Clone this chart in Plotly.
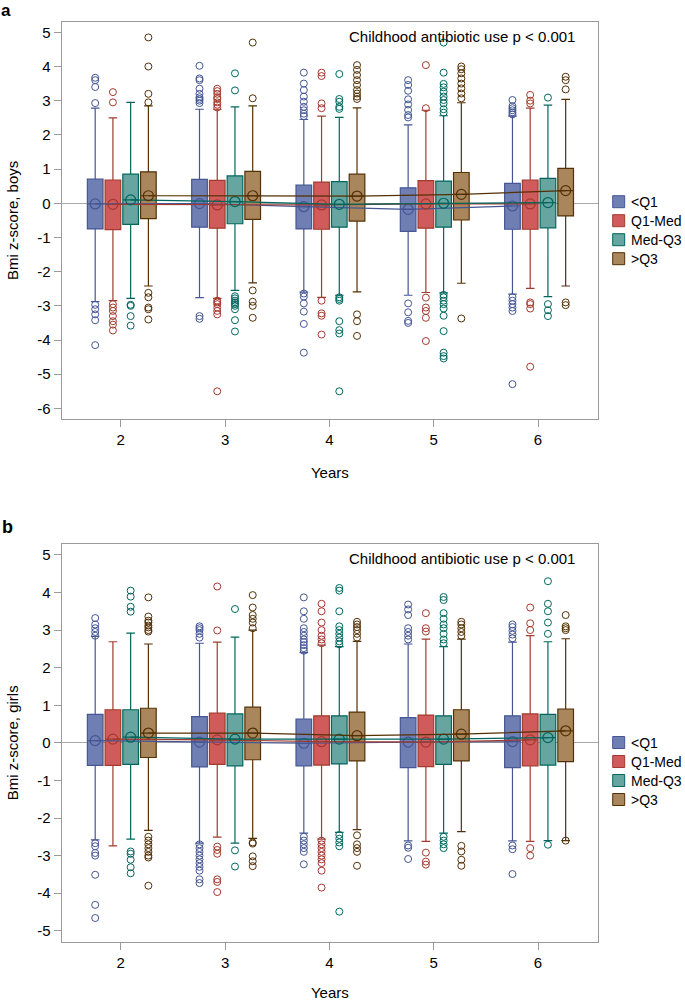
import plotly.graph_objects as go

# ---------------- data ----------------
YEARS = [2, 3, 4, 5, 6]
GROUPS = ["<Q1", "Q1-Med", "Med-Q3", ">Q3"]
ANNOT = "Childhood antibiotic use p < 0.001"

# Panel a: boys  (rows = groups <Q1, Q1-Med, Med-Q3, >Q3 ; cols = years 2..6)
BOYS_Q3 = [[0.71, 0.70, 0.53, 0.45, 0.58],
           [0.68, 0.67, 0.62, 0.66, 0.68],
           [0.85, 0.80, 0.63, 0.65, 0.73],
           [0.92, 0.93, 0.85, 0.90, 1.02]]
BOYS_Q1 = [[-0.75, -0.70, -0.75, -0.82, -0.76],
           [-0.77, -0.73, -0.76, -0.73, -0.76],
           [-0.62, -0.60, -0.70, -0.70, -0.72],
           [-0.45, -0.47, -0.52, -0.49, -0.37]]
BOYS_MEAN = [[-0.02, -0.01, -0.10, -0.18, -0.08],
             [-0.03, -0.05, -0.05, -0.02, -0.02],
             [0.10, 0.05, -0.03, 0.00, 0.02],
             [0.22, 0.22, 0.21, 0.26, 0.37]]
BOYS_HI = [[2.78, 2.75, 2.45, 2.29, 2.55],
           [2.50, 2.75, 2.55, 2.72, 2.78],
           [2.95, 2.82, 2.51, 2.56, 2.87],
           [2.85, 2.85, 2.79, 2.94, 3.04]]
BOYS_LO = [[-2.88, -2.76, -2.60, -2.69, -2.66],
           [-2.85, -2.78, -2.75, -2.61, -2.49],
           [-2.78, -2.55, -2.69, -2.62, -2.73],
           [-2.42, -2.33, -2.59, -2.34, -2.42]]
BOYS_OUT = [
    [[2.93, 3.40, 3.60, 3.67, -2.97, -3.10, -3.25, -3.42, -4.15],
     [2.93, 3.00, 3.05, 3.10, 3.20, 3.35, 3.60, 3.65, 4.02, -3.30, -3.38],
     [2.55, 2.62, 2.72, 2.82, 2.97, 3.12, 3.31, 3.50, 3.82, -2.64, -2.73, -2.93, -3.17, -3.53, -4.37],
     [2.51, 2.58, 2.73, 2.89, 3.04, 3.29, 3.46, 3.60, -2.93, -3.19, -3.44, -3.50],
     [2.60, 2.66, 2.72, 2.78, 2.84, 3.02, -2.75, -2.85, -2.95, -3.05, -3.15, -5.29]],
    [[2.95, 3.25, -2.95, -3.05, -3.15, -3.30, -3.45, -3.55, -3.72],
     [2.80, 2.88, 2.95, 3.05, 3.10, 3.20, 3.28, 3.35, -2.85, -2.90, -2.95, -3.05, -3.15, -3.25, -5.50],
     [2.78, 2.92, 3.72, 3.82, -2.85, -3.22, -3.29, -3.84],
     [2.78, 4.04, -2.76, -3.05, -3.15, -3.35, -4.03],
     [2.92, 3.00, 3.17, -2.90, -2.95, -3.08, -4.78]],
    [[-2.97, -3.00, -3.30, -3.58],
     [3.30, 3.80, -2.72, -2.78, -2.85, -2.90, -2.95, -3.00, -3.10, -3.42, -3.75],
     [2.76, 2.82, 2.97, 3.05, 3.78, -2.75, -2.80, -2.85, -3.45, -3.71, -3.81, -5.50],
     [2.65, 2.75, 2.92, 3.02, 3.12, 3.26, 3.39, 3.49, 3.82, 4.70, -2.68, -2.75, -2.85, -2.95, -3.08, -3.29, -3.74, -4.37, -4.47, -4.54],
     [3.09, -2.95, -3.13, -3.30]],
    [[2.95, 3.20, 4.00, 4.85, -2.62, -2.75, -3.05, -3.10, -3.40],
     [3.07, 4.70, -2.55, -2.88, -3.00, -3.35],
     [3.05, 3.12, 3.21, 3.31, 3.46, 3.60, 3.75, 3.90, 4.04, -3.25, -3.45, -3.88],
     [3.07, 3.21, 3.36, 3.50, 3.65, 3.80, 3.92, 4.00, -3.37],
     [3.33, 3.60, 3.70, -2.90, -2.98]],
]

# Panel b: girls
GIRLS_Q3 = [[0.76, 0.70, 0.63, 0.67, 0.72],
            [0.88, 0.79, 0.72, 0.74, 0.77],
            [0.88, 0.77, 0.72, 0.72, 0.76],
            [0.92, 0.95, 0.82, 0.88, 0.90]]
GIRLS_Q1 = [[-0.60, -0.64, -0.61, -0.66, -0.66],
            [-0.60, -0.57, -0.59, -0.63, -0.61],
            [-0.57, -0.61, -0.56, -0.57, -0.59],
            [-0.39, -0.45, -0.48, -0.48, -0.50]]
GIRLS_MEAN = [[0.06, 0.02, -0.01, 0.02, 0.03],
              [0.10, 0.08, 0.03, 0.02, 0.08],
              [0.15, 0.10, 0.10, 0.10, 0.14],
              [0.26, 0.26, 0.19, 0.23, 0.32]]
GIRLS_HI = [[2.83, 2.65, 2.40, 2.63, 2.68],
            [2.69, 2.68, 2.60, 2.76, 2.85],
            [2.92, 2.81, 2.56, 2.56, 2.69],
            [2.63, 3.00, 2.70, 2.76, 2.77]]
GIRLS_LO = [[-2.58, -2.67, -2.40, -2.61, -2.61],
            [-2.74, -2.51, -2.56, -2.62, -2.62],
            [-2.56, -2.67, -2.38, -2.40, -2.60],
            [-2.33, -2.54, -2.31, -2.36, -2.60]]
GIRLS_OUT = [
    [[2.85, 2.95, 3.05, 3.15, 3.32, -2.67, -2.75, -2.93, -3.00, -3.51, -4.31, -4.66],
     [2.80, 2.90, 3.00, 3.05, 3.10, -2.70, -2.80, -2.90, -3.00, -3.10, -3.20, -3.30, -3.40, -3.63, -3.73],
     [2.45, 2.52, 2.60, 2.68, 2.75, 2.85, 2.95, 3.05, 3.30, 3.50, 3.87, -2.50, -2.60, -2.70, -2.80, -2.90, -3.23],
     [2.75, 2.85, 2.95, 3.05, 3.40, 3.55, 3.68, -2.73, -2.79, -3.09],
     [2.78, 2.88, 2.98, 3.08, 3.15, -2.73, -2.83, -3.49]],
    [[],
     [2.99, 4.16, -2.76, -2.85, -2.95, -3.63, -3.70, -3.97],
     [2.65, 2.75, 2.85, 3.00, 3.20, 3.50, 3.70, -2.60, -2.70, -2.80, -2.90, -3.00, -3.10, -3.20, -3.40, -3.85],
     [2.96, 3.05, 3.45, -2.92, -3.16, -3.24],
     [3.00, 3.18, 3.60, -2.80, -3.00]],
    [[3.49, 3.62, 3.89, 4.05, -2.89, -2.95, -3.11, -3.31, -3.47],
     [3.56, -2.86, -3.29],
     [2.62, 2.70, 2.80, 2.90, 3.00, 3.10, 3.50, 4.05, 4.12, -2.45, -2.55, -2.65, -2.75, -4.49],
     [2.65, 2.75, 2.90, 3.05, 3.15, 3.30, 3.45, 3.80, 3.88, -2.50, -2.60, -2.70, -2.80],
     [2.90, 3.20, 3.50, 3.70, 4.30, -2.71]],
    [[2.96, 3.00, 3.07, 3.12, 3.20, 3.25, 3.36, 3.87, -2.50, -2.60, -2.70, -2.80, -2.90, -3.00, -3.05, -3.80],
     [3.05, 3.20, 3.30, 3.40, 3.60, 3.93, -2.65, -2.68, -3.02, -3.15, -3.28],
     [2.80, 2.90, 3.00, 3.08, 3.15, 3.22, -2.46, -2.70, -2.80, -2.90, -3.27],
     [2.85, 2.95, 3.05, 3.15, 3.22, -2.74, -2.89, -3.11, -3.27],
     [3.00, 3.05, 3.10, 3.40, -2.60]],
]

YTICKS_A = list(range(-6, 6))
YTICKS_B = list(range(-5, 6))

# ---------------- style ----------------
FILL = ["#6F7EB3", "#D05B5B", "#66A5A0", "#A9865B"]
LINE = ["#445694", "#A23A2E", "#01665E", "#543005"]
OFFSETS = [-0.245, -0.075, 0.095, 0.265]
BOX_W = 0.15
FONT = "Liberation Sans"
AXCOL = "#9a9a9a"
W, H = 685, 1001

fig = go.Figure()


def add_panel(xa, ya, q1, q3, mean, lo, hi, outl):
    for g in range(4):
        xs = [yr + OFFSETS[g] for yr in YEARS]
        fig.add_trace(go.Box(
            x=xs, q1=q1[g], median=mean[g], q3=q3[g],
            lowerfence=lo[g], upperfence=hi[g],
            name=GROUPS[g], fillcolor=FILL[g],
            line=dict(color=LINE[g], width=1.2),
            width=BOX_W, whiskerwidth=0.55, boxpoints=False,
            xaxis=xa, yaxis=ya, showlegend=False, hoverinfo="skip"))
    for g in range(4):
        ox, oy = [], []
        for i, yr in enumerate(YEARS):
            for v in outl[g][i]:
                ox.append(yr + OFFSETS[g])
                oy.append(v)
        fig.add_trace(go.Scatter(
            x=ox, y=oy, mode="markers",
            marker=dict(symbol="circle-open", size=7, color=LINE[g],
                        line=dict(width=1, color=LINE[g])),
            xaxis=xa, yaxis=ya, showlegend=False, hoverinfo="skip"))
    for g in range(4):
        xs = [yr + OFFSETS[g] for yr in YEARS]
        fig.add_trace(go.Scatter(
            x=xs, y=mean[g], mode="lines+markers",
            line=dict(color=LINE[g], width=1.2),
            marker=dict(symbol="circle-open", size=10, color=LINE[g],
                        line=dict(width=1.2, color=LINE[g])),
            xaxis=xa, yaxis=ya, showlegend=False, hoverinfo="skip"))


add_panel("x", "y", BOYS_Q1, BOYS_Q3, BOYS_MEAN, BOYS_LO, BOYS_HI, BOYS_OUT)
add_panel("x2", "y2", GIRLS_Q1, GIRLS_Q3, GIRLS_MEAN, GIRLS_LO, GIRLS_HI, GIRLS_OUT)

xdom = [61.7 / W, 598 / W]
common_x = dict(domain=xdom, range=[1.434, 6.575], tickvals=YEARS,
                ticktext=[str(v) for v in YEARS], ticks="outside", ticklen=7,
                tickcolor=AXCOL, showline=True, linecolor=AXCOL, linewidth=1.3,
                mirror=True, showgrid=False, zeroline=False,
                tickfont=dict(family=FONT, size=15, color="black"),
                title=dict(text="Years", font=dict(family=FONT, size=15, color="black"),
                           standoff=20))


def yax(dom, rng, ticks, title, anchor):
    return dict(domain=dom, range=rng, tickvals=ticks, ticktext=[str(v) for v in ticks],
                ticks="outside", ticklen=7, tickcolor=AXCOL, showline=True,
                linecolor=AXCOL, linewidth=1.3, mirror=True, showgrid=False,
                zeroline=True, zerolinecolor="#a8a8a8", zerolinewidth=1.2,
                tickfont=dict(family=FONT, size=15, color="black"), anchor=anchor,
                title=dict(text=title, font=dict(family=FONT, size=15, color="black"),
                           standoff=14))


# custom legends (one per panel), rows 19 px apart
shapes, annotations = [], []
for first_row_y in (201.7, 742.5):
    for g, name in enumerate(GROUPS):
        yc = first_row_y + 19 * g
        shapes.append(dict(type="rect", xref="paper", yref="paper",
                           x0=612.7 / W, x1=624.7 / W,
                           y0=1 - (yc + 6) / H, y1=1 - (yc - 6) / H,
                           fillcolor=FILL[g], line=dict(color=LINE[g], width=1)))
        annotations.append(dict(text=name, xref="paper", yref="paper",
                                x=630 / W, y=1 - yc / H, xanchor="left",
                                yanchor="middle", showarrow=False, borderpad=0,
                                font=dict(family=FONT, size=14, color="black")))

annotations += [
    dict(text=ANNOT, xref="paper", yref="paper", x=577 / W, y=1 - 36 / H,
         xanchor="right", yanchor="middle", showarrow=False,
         font=dict(family=FONT, size=15, color="black")),
    dict(text=ANNOT, xref="paper", yref="paper", x=577 / W, y=1 - 558.5 / H,
         xanchor="right", yanchor="middle", showarrow=False,
         font=dict(family=FONT, size=15, color="black")),
    dict(text="<b>a</b>", xref="paper", yref="paper", x=0, y=1,
         xanchor="left", yanchor="top", showarrow=False, borderpad=0,
         font=dict(family=FONT, size=17, color="black")),
    dict(text="<b>b</b>", xref="paper", yref="paper", x=0, y=1 - 527 / H,
         xanchor="left", yanchor="middle", showarrow=False,
         font=dict(family=FONT, size=18, color="black")),
]

fig.update_layout(
    width=W, height=H,
    margin=dict(l=0, r=0, t=0, b=0),
    paper_bgcolor="white", plot_bgcolor="white",
    font=dict(family=FONT, size=15, color="black"),
    xaxis=dict(**common_x, anchor="y"),
    xaxis2=dict(**common_x, anchor="y2"),
    yaxis=yax([1 - 419 / H, 1 - 21.7 / H], [-6.31, 5.31], YTICKS_A, "Bmi z-score, boys", "x"),
    yaxis2=yax([1 - 941.7 / H, 1 - 544 / H], [-5.29, 5.29], YTICKS_B, "Bmi z-score, girls", "x2"),
    showlegend=False,
    shapes=shapes,
    annotations=annotations,
)

fig.write_html("out.html", config={"displayModeBar": False},
               post_script="document.body.style.margin='0';document.body.style.overflow='hidden';")
